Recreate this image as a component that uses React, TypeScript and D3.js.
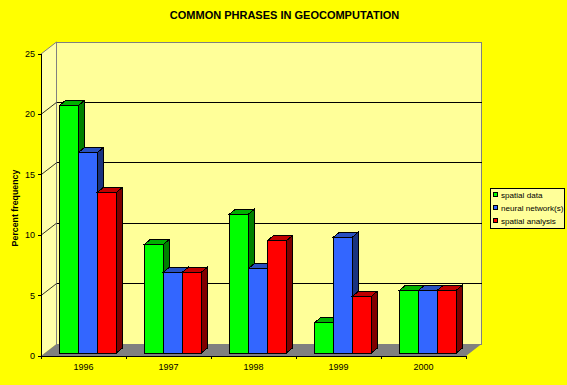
import React from "react";
import * as d3 from "d3";

const years = ["1996", "1997", "1998", "1999", "2000"];
const seriesNames = ["spatial data", "neural network(s)", "spatial analysis"];
const spatialData = [20.5, 9, 11.5, 2.5, 5.2];
const neuralNetworks = [16.6, 6.7, 7, 9.6, 5.2];
const spatialAnalysis = [13.3, 6.7, 9.3, 4.7, 5.2];
const seriesValues = [spatialData, neuralNetworks, spatialAnalysis];
const frontColors = ["#00ff00", "#3366ff", "#ff0000"];
const topColors = ["#00b000", "#2850c0", "#c00000"];
const sideColors = ["#008000", "#1a3380", "#800000"];
const yTicks = [0, 5, 10, 15, 20, 25];

const W = 567, H = 385;
const x0 = 41, x1 = 466, y0 = 356, y1 = 54;
const wallDx = 15.5, wallDy = -12;
const barOffX = 4.5, barOffY = -3, barDx = 6, barDy = -5;

const FONT = "'Liberation Sans', Arial, sans-serif";

export default function App() {
  const y = d3.scaleLinear().domain([0, 25]).range([y0, y1]);
  const xGroup = d3.scaleBand().domain(years).range([x0, x1]).paddingInner(0.33).paddingOuter(0.165);
  const xBar = d3.scaleBand().domain(seriesNames).range([0, xGroup.bandwidth()]);
  const bw = xBar.bandwidth();
  const tickXs = years.map((_, i) => x0 + (i * (x1 - x0)) / years.length).concat([x1]);

  return (
    <svg width={W} height={H} style={{ position: "absolute", left: 0, top: 0, display: "block" }} fontFamily={FONT}>
      <rect width={W} height={H} fill="#ffff00" />
      <text x={284.5} y={19} textAnchor="middle" fontSize={11} fontWeight="bold">COMMON PHRASES IN GEOCOMPUTATION</text>

      {/* walls */}
      <rect x={x0 + wallDx} y={y1 + wallDy} width={x1 - x0} height={y0 - y1} fill="#ffff99" stroke="#808080" shapeRendering="crispEdges" />
      <path d={`M${x0},${y0}L${x0},${y1}L${x0 + wallDx},${y1 + wallDy}L${x0 + wallDx},${y0 + wallDy}Z`} fill="#ffffa8" />
      <line x1={x0 + wallDx} x2={x0 + wallDx} y1={y1 + wallDy} y2={y0 + wallDy} stroke="#808080" shapeRendering="crispEdges" />
      <path d={`M${x0},${y0}L${x0 + wallDx},${y0 + wallDy}L${x1 + wallDx},${y0 + wallDy}L${x1},${y0}Z`} fill="#808080" />
      <line x1={x0} x2={x0 + wallDx} y1={y1} y2={y1 + wallDy} stroke="#808080" />

      {/* gridlines */}
      {yTicks.filter((t) => t > 0 && t < 25).map((t) => (
        <g key={t} stroke="#000">
          <line x1={x0} y1={y(t)} x2={x0 + wallDx} y2={y(t) + wallDy} strokeWidth={0.8} />
          <line x1={x0 + wallDx} x2={x1 + wallDx} y1={y(t) + wallDy} y2={y(t) + wallDy} shapeRendering="crispEdges" />
        </g>
      ))}

      {/* bars */}
      {years.map((yr, i) => (
        <g key={yr} stroke="#000" strokeWidth={1} strokeLinejoin="miter" shapeRendering="crispEdges">
          {seriesNames.map((s, k) => {
            const bx = xGroup(yr)! + xBar(s)! + barOffX;
            const bb = y0 + barOffY;
            const bt = y(seriesValues[k][i]) + barOffY;
            return (
              <g key={s}>
                <path d={`M${bx},${bt}L${bx + barDx},${bt + barDy}L${bx + bw + barDx},${bt + barDy}L${bx + bw},${bt}Z`} fill={topColors[k]} />
                <path d={`M${bx + bw},${bb}L${bx + bw + barDx},${bb + barDy}L${bx + bw + barDx},${bt + barDy}L${bx + bw},${bt}Z`} fill={sideColors[k]} />
                <rect x={bx} y={bt} width={bw} height={bb - bt} fill={frontColors[k]} />
              </g>
            );
          })}
        </g>
      ))}

      {/* axes */}
      <g stroke="#000" shapeRendering="crispEdges">
        <line x1={x0} x2={x0} y1={y1} y2={y0 + 3} strokeWidth={1} />
        <line x1={x0} x2={x1} y1={y0} y2={y0} strokeWidth={1} />
        {yTicks.map((t) => <line key={t} x1={x0 - 3} x2={x0} y1={y(t)} y2={y(t)} />)}
        {tickXs.map((t) => <line key={t} x1={t} x2={t} y1={y0} y2={y0 + 3} />)}
      </g>
      {yTicks.map((t) => (
        <text key={t} x={35} y={y(t) + 3} textAnchor="end" fontSize={9}>{t}</text>
      ))}
      {years.map((yr, i) => (
        <text key={yr} x={(tickXs[i] + tickXs[i + 1]) / 2} y={370} textAnchor="middle" fontSize={9}>{yr}</text>
      ))}
      <text transform="translate(18,208) rotate(-90)" textAnchor="middle" fontSize={8.8} fontWeight="bold">Percent frequency</text>

      {/* legend */}
      <rect x={490.5} y={188.5} width={74} height={40} fill="#ffff99" stroke="#000" shapeRendering="crispEdges" />
      {seriesNames.map((s, k) => (
        <g key={s}>
          <rect x={493.5} y={192.5 + k * 13} width={4} height={4} fill={frontColors[k]} stroke="#000" shapeRendering="crispEdges" />
          <text x={501} y={197.5 + k * 13} fontSize={8.1}>{s}</text>
        </g>
      ))}
    </svg>
  );
}
